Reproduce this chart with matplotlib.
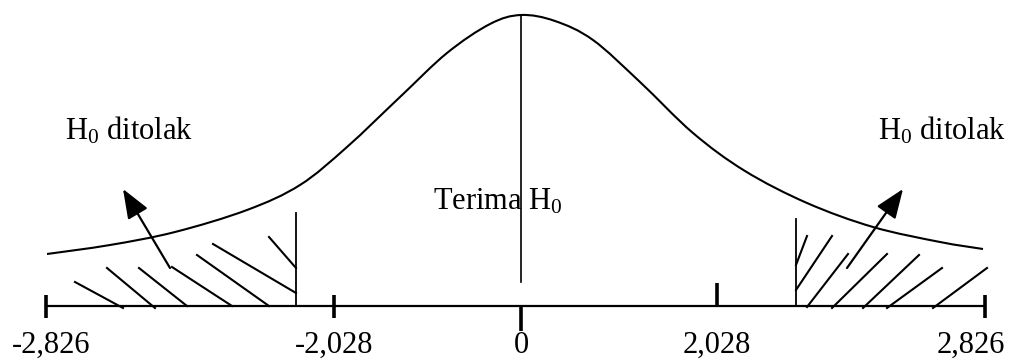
import numpy as np
import matplotlib.pyplot as plt
from matplotlib.path import Path
from matplotlib.patches import PathPatch

plt.rcParams['font.family'] = ['Liberation Serif', 'DejaVu Serif']
plt.rcParams['mathtext.fontset'] = 'custom'
plt.rcParams['mathtext.rm'] = 'Liberation Serif'
plt.rcParams['mathtext.it'] = 'Liberation Serif:italic'

# critical values shown under the axis
tick_labels = ["-2,826", "-2,028", "0", "2,028", "2,826"]
region_labels = ["H$_0$ ditolak", "Terima H$_0$", "H$_0$ ditolak"]

# curve (drawing units, y grows downward)
curve_x = [47, 110, 175, 247, 300, 347, 400, 447, 490, 521, 555, 593, 640,
           693, 745, 807, 873, 940, 983]
curve_y = [254, 245, 232, 210, 185, 147, 97, 53, 24, 15, 21, 40, 82,
           133, 171, 203, 227, 242, 249]

# hatch strokes in the rejection regions: (x0, y0, x1, y1)
hatch_left = [(75, 282, 123, 308), (107, 268, 155, 308), (139, 268, 187, 306),
              (172, 267, 232, 306), (197, 255, 269, 306), (213, 244, 296, 293),
              (269, 237, 296, 268)]
hatch_right = [(796, 265, 807, 236), (796, 290, 832, 236), (807, 307, 848, 254),
               (832, 308, 887, 254), (863, 308, 919, 255), (887, 308, 942, 268),
               (933, 308, 987, 268)]

# layout
tick_x = [46, 334, 521, 717, 985]
tick_span = [(295, 318), (295, 318), (306, 331), (283, 306), (295, 318)]
label_x = [51, 334, 521, 717, 971]
axis_y = 306


def smooth_path(xs, ys):
    # cubic bezier through the traced points (catmull-rom handles)
    p = np.column_stack([xs, ys]).astype(float)
    verts = [p[0]]
    codes = [Path.MOVETO]
    for i in range(len(p) - 1):
        p0 = p[i - 1] if i > 0 else p[i]
        p3 = p[i + 2] if i + 2 < len(p) else p[i + 1]
        c1 = p[i] + (p[i + 1] - p0) / 6
        c2 = p[i + 1] - (p3 - p[i]) / 6
        verts += [c1, c2, p[i + 1]]
        codes += [Path.CURVE4] * 3
    return Path(verts, codes)


fig = plt.figure(figsize=(10.14, 3.62), dpi=100)
ax = fig.add_axes([0, 0, 1, 1])
ax.set_xlim(0, 1014)
ax.set_ylim(362, 0)
ax.axis('off')

# bell curve and centre line
ax.add_patch(PathPatch(smooth_path(curve_x, curve_y), fill=False,
                       edgecolor='black', lw=1.5))
ax.plot([521, 521], [15, 282], color='black', lw=1.2)

# horizontal axis with ticks
ax.plot([tick_x[0], tick_x[-1]], [axis_y, axis_y], color='black', lw=1.6)
for x, (y0, y1) in zip(tick_x, tick_span):
    ax.plot([x, x], [y0, y1], color='black', lw=2.6, solid_capstyle='butt')
for x, t in zip(label_x, tick_labels):
    ax.text(x, 353, t, ha='center', va='baseline', fontsize=22)

# boundaries of the rejection regions
ax.plot([296, 296], [213, axis_y], color='black', lw=1.3)
ax.plot([796, 796], [219, axis_y], color='black', lw=1.3)
for x0, y0, x1, y1 in hatch_left + hatch_right:
    ax.plot([x0, x1], [y0, y1], color='black', lw=1.5)

# arrows pointing at the labels
arrow = dict(arrowstyle='-|>,head_length=0.9,head_width=0.35', color='black',
             lw=1.6, shrinkA=0, shrinkB=0, mutation_scale=20)
ax.annotate('', xy=(123, 189), xytext=(170, 268), arrowprops=arrow)
ax.annotate('', xy=(903, 189), xytext=(847, 268), arrowprops=arrow)

ax.text(65, 139, region_labels[0], ha='left', va='baseline', fontsize=22)
ax.text(433, 209, region_labels[1], ha='left', va='baseline', fontsize=22)
ax.text(878, 139, region_labels[2], ha='left', va='baseline', fontsize=22)

fig.savefig('out.png', dpi=100)
